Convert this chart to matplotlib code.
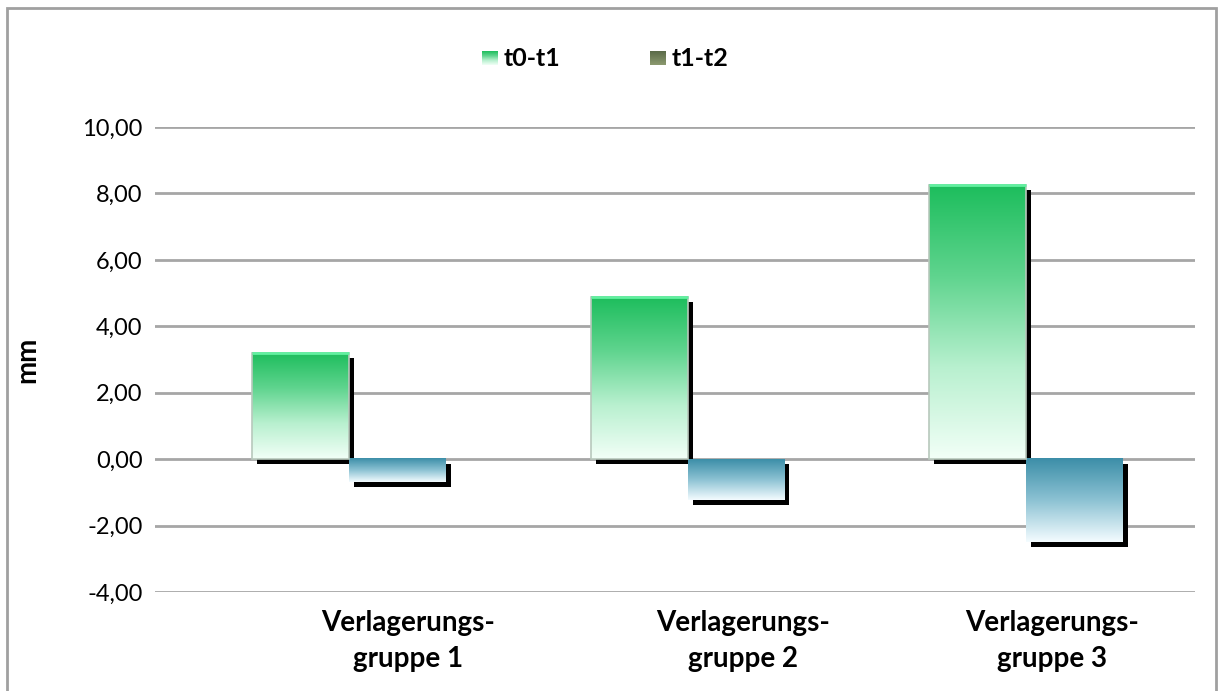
import numpy as np
import matplotlib
matplotlib.use("Agg")
import matplotlib.pyplot as plt
from matplotlib.patches import Rectangle
import matplotlib.transforms as mtransforms
from matplotlib.colors import LinearSegmentedColormap

# ---- data ----
categories = ["Verlagerungs-\ngruppe 1", "Verlagerungs-\ngruppe 2", "Verlagerungs-\ngruppe 3"]
series_names = ["t0-t1", "t1-t2"]
t0_t1 = [3.20, 4.88, 8.25]
t1_t2 = [-0.70, -1.23, -2.50]
yticks = [-4, -2, 0, 2, 4, 6, 8, 10]
ytick_labels = ["-4,00", "-2,00", "0,00", "2,00", "4,00", "6,00", "8,00", "10,00"]
y_label = "mm"

# ---- layout / style ----
W, H = 1218, 691
FONT = "Lato"
label_shift = [0.174, 0.164, 0.077]
bar_w = 0.286
green_cmap = LinearSegmentedColormap.from_list("g", ["#1cbd5c", "#5fd48e", "#b8f0cf", "#f2fff7"])
blue_cmap = LinearSegmentedColormap.from_list("b", ["#3c8ea8", "#8cc2d3", "#f4fcff"])

fig = plt.figure(figsize=(W / 100, H / 100), dpi=100)
fig.patch.set_facecolor("white")
ax = fig.add_axes([155 / W, 1 - 592 / H, (1195 - 155) / W, (592 - 127) / H])

x = np.arange(len(categories))
b1 = ax.bar(x - bar_w / 2, t0_t1, bar_w, color="none", edgecolor="none", zorder=3)
b2 = ax.bar(x + bar_w / 2, t1_t2, bar_w, color="none", edgecolor="none", zorder=3)

shadow_tr = ax.transData + mtransforms.ScaledTranslation(5 / 100, -5 / 100, fig.dpi_scale_trans)
grad = np.linspace(0, 1, 256).reshape(-1, 1)
for bars, cmap in ((b1, green_cmap), (b2, blue_cmap)):
    for r in bars:
        x0, y0 = r.get_x(), r.get_y()
        w, h = r.get_width(), r.get_height()
        ylo, yhi = min(y0, y0 + h), max(y0, y0 + h)
        ax.add_patch(Rectangle((x0, ylo), w, yhi - ylo, facecolor="black",
                               edgecolor="none", transform=shadow_tr, zorder=1.5))
        ax.imshow(grad, cmap=cmap, extent=(x0, x0 + w, ylo, yhi),
                  origin="upper", aspect="auto", zorder=2, interpolation="bilinear")
        if cmap is green_cmap:
            ax.add_patch(Rectangle((x0, ylo), w, yhi - ylo, facecolor="none",
                                   edgecolor="#b8c8bc", lw=1.2, zorder=2.5))
            ax.plot([x0, x0 + w], [yhi, yhi], color="#62f0a0", lw=2, zorder=2.6,
                    solid_capstyle="butt")

ax.set_xlim(-0.573, 2.499)
ax.set_ylim(-4, 10)
ax.set_aspect("auto")
ax.set_yticks(yticks)
ax.set_yticklabels(ytick_labels, fontsize=17, family=FONT)
ax.yaxis.grid(True, color="#a6a6a6", lw=2)
ax.set_axisbelow(True)
ax.set_xticks(x + np.array(label_shift))
ax.set_xticklabels(categories, fontsize=20, family=FONT, fontweight="bold", linespacing=1.45)
ax.tick_params(axis="both", length=0)
ax.tick_params(axis="y", pad=9)
ax.tick_params(axis="x", pad=13)
for s in ax.spines.values():
    s.set_visible(False)
ax.set_ylabel(y_label, fontsize=20, family=FONT, fontweight="bold", labelpad=30)

# legend (manual)
legend_items = [(series_names[0], "g", 482), (series_names[1], "o", 650)]
for name, kind, px in legend_items:
    lax = fig.add_axes([px / W, 1 - 65 / H, 16 / W, 14 / H])
    if kind == "g":
        lax.imshow(grad, cmap=green_cmap, aspect="auto", extent=(0, 1, 0, 1))
    else:
        lax.imshow(grad, cmap=LinearSegmentedColormap.from_list("o", ["#5a6a48", "#8c9a70"]),
                   aspect="auto", extent=(0, 1, 0, 1))
    lax.set_axis_off()
    fig.text((px + 22) / W, 1 - 58 / H, name, fontsize=18, family=FONT,
             fontweight="bold", va="center", ha="left")

# outer border
fig.patches.append(Rectangle((7 / W, -0.05), (1216 - 7) / W, 1.05 - 8 / H,
                             transform=fig.transFigure, facecolor="none",
                             edgecolor="#a0a0a0", lw=2, zorder=10))

fig.savefig("out.png", dpi=100)
